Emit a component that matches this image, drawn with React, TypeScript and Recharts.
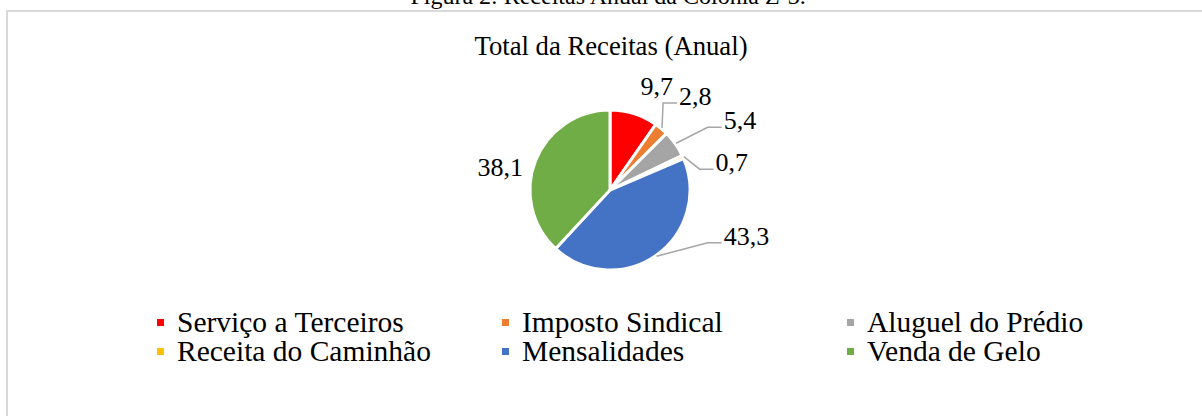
import { PieChart, Pie, Cell, Legend } from "recharts";

const FONT = "'Liberation Serif', 'Times New Roman', serif";

const categories = [
  "Serviço a Terceiros",
  "Imposto Sindical",
  "Aluguel do Prédio",
  "Receita do Caminhão",
  "Mensalidades",
  "Venda de Gelo",
];
const values = [9.7, 2.8, 5.4, 0.7, 43.3, 38.1];
const colors = ["#ff0000", "#ed7d31", "#a5a5a5", "#ffc000", "#4472c4", "#70ad47"];

// excel "best fit" label placement: shift (deg, clockwise) from slice middle,
// gap beyond the pie edge, and whether a leader line is drawn
const labelShift = [6.8, -8.6, 2.6, 11.2, -26.5, -9.6];
const labelGap = [34, 22, 36, 12, 31, 32];
const hasLeader = [false, true, true, true, true, false];

const data = categories.map((name, i) => ({ name, value: values[i] }));

const RAD = Math.PI / 180;

function renderLabel(props: any) {
  const { cx, cy, midAngle, outerRadius, index } = props;
  const text = String(values[index]).replace(".", ",");
  const a = (midAngle - labelShift[index]) * RAD;
  const r = outerRadius + labelGap[index];
  const x = cx + r * Math.cos(a);
  const y = cy - r * Math.sin(a);

  if (!hasLeader[index]) {
    return (
      <text
        x={x}
        y={y}
        textAnchor="middle"
        dominantBaseline="central"
        fontFamily={FONT}
        fontSize={26}
        fill="#000"
      >
        {text}
      </text>
    );
  }

  const m = midAngle * RAD;
  const sx = cx + (outerRadius + 1) * Math.cos(m);
  const sy = cy - (outerRadius + 1) * Math.sin(m);
  return (
    <g>
      <polyline
        points={`${sx},${sy} ${x},${y} ${x + 14},${y}`}
        fill="none"
        stroke="#a6a6a6"
        strokeWidth={1.5}
      />
      <text x={x + 16} y={y + 2} textAnchor="start" fontFamily={FONT} fontSize={26} fill="#000">
        {text}
      </text>
    </g>
  );
}

function renderLegend() {
  return (
    <div
      style={{
        display: "grid",
        gridTemplateColumns: "345px 345px 345px",
        fontFamily: FONT,
        fontSize: 29.5,
        color: "#000",
      }}
    >
      {categories.map((c, i) => (
        <div key={c} style={{ display: "flex", alignItems: "center", height: 29, whiteSpace: "nowrap" }}>
          <span style={{ width: 7, height: 7, background: colors[i], marginRight: 13, flex: "none" }} />
          <span style={{ lineHeight: "29px" }}>{c}</span>
        </div>
      ))}
    </div>
  );
}

export default function App() {
  return (
    <div
      style={{
        position: "absolute",
        left: 0,
        top: 0,
        width: 1202,
        height: 416,
        overflow: "hidden",
        background: "#fff",
        fontFamily: FONT,
      }}
    >
      <div
        style={{
          position: "absolute",
          left: 0,
          top: -16,
          width: 1216,
          textAlign: "center",
          fontSize: 24,
          lineHeight: "24px",
          whiteSpace: "nowrap",
        }}
      >
        Figura 2: Receitas Anual da Colonia Z-3.
      </div>
      <div
        style={{
          position: "absolute",
          left: 6,
          top: 10,
          width: 1260,
          height: 460,
          border: "2px solid #d9d9d9",
        }}
      />
      <div
        style={{
          position: "absolute",
          left: 0,
          top: 33,
          width: 1222,
          textAlign: "center",
          fontSize: 26.7,
          lineHeight: "26px",
          whiteSpace: "nowrap",
        }}
      >
        Total da Receitas (Anual)
      </div>
      <div style={{ position: "absolute", left: 0, top: 0 }}>
        <PieChart width={1202} height={416} margin={{ top: 0, right: 0, bottom: 0, left: 0 }}>
          <Pie
            data={data}
            dataKey="value"
            nameKey="name"
            cx={610}
            cy={190}
            outerRadius={80}
            startAngle={90}
            endAngle={-270}
            stroke="#fff"
            strokeWidth={3}
            label={renderLabel}
            labelLine={false}
            isAnimationActive={false}
          >
            {data.map((d, i) => (
              <Cell key={d.name} fill={colors[i]} />
            ))}
          </Pie>
          <Legend
            content={renderLegend}
            wrapperStyle={{ left: 157, top: 307.5, bottom: "auto", width: 1040 }}
          />
        </PieChart>
      </div>
    </div>
  );
}
